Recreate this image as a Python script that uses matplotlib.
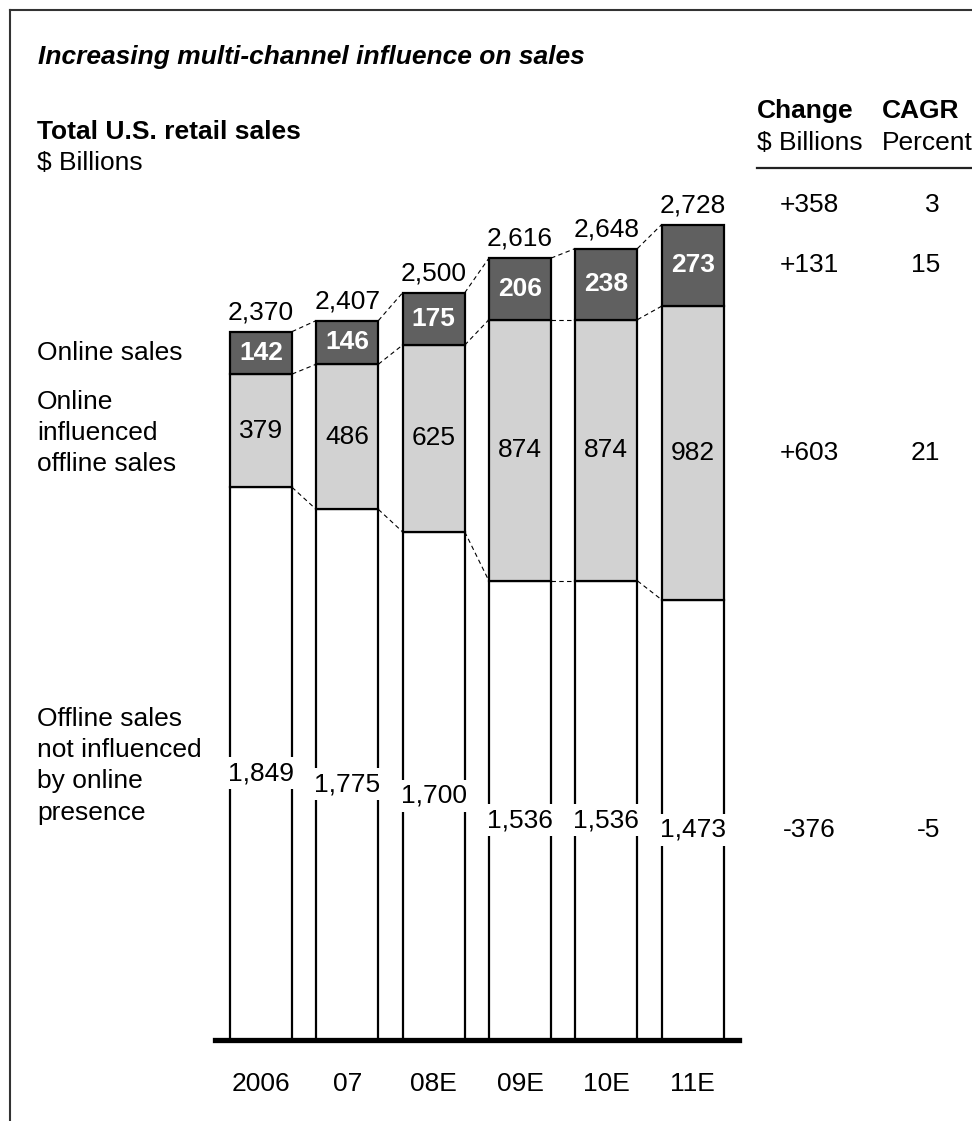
import numpy as np
import matplotlib.pyplot as plt
import matplotlib.transforms as mtransforms
from matplotlib.lines import Line2D

plt.rcParams['font.family'] = ['Liberation Sans', 'DejaVu Sans']

# Data (US$ billions)
years = ['2006', '07', '08E', '09E', '10E', '11E']
offline = [1849, 1775, 1700, 1536, 1536, 1473]
influenced = [379, 486, 625, 874, 874, 982]
online = [142, 146, 175, 206, 238, 273]
totals = [2370, 2407, 2500, 2616, 2648, 2728]

change = ['+358', '+131', '+603', '-376']
cagr = ['3', '15', '21', '-5']

DARK = '#606060'
LIGHT = '#d2d2d2'
FS = 19

W, H = 972, 1121
fig = plt.figure(figsize=(W / 100, H / 100), dpi=100)


def fx(px):
    return px / W


def fy(py):
    return 1 - py / H


ax = fig.add_axes([fx(214.8), fy(1040), 524.1 / W, 896.7 / H])
x = np.arange(len(years))
bw = 0.72
off = np.array(offline)
inf = np.array(influenced)
onl = np.array(online)

ax.bar(x, off, bw, color='white', edgecolor='black', linewidth=1.6, zorder=2)
ax.bar(x, inf, bw, bottom=off, color=LIGHT, edgecolor='black', linewidth=1.6, zorder=2)
ax.bar(x, onl, bw, bottom=off + inf, color=DARK, edgecolor='black', linewidth=1.6, zorder=2)

# dashed connectors between bars
for level in [off, off + inf, off + inf + onl]:
    for i in range(len(x) - 1):
        ax.plot([x[i] + bw / 2, x[i + 1] - bw / 2], [level[i], level[i + 1]],
                color='black', lw=0.8, ls=(0, (4, 3)), zorder=1)

for i in range(len(x)):
    ax.annotate(f'{offline[i]:,}', (x[i], off[i] / 2), xytext=(0, -7),
                textcoords='offset points', ha='center', va='center', fontsize=FS,
                bbox=dict(boxstyle='square,pad=0.15', fc='white', ec='none'), zorder=3)
    ax.text(x[i], off[i] + inf[i] / 2, str(influenced[i]), ha='center', va='center',
            fontsize=FS, zorder=3)
    ax.text(x[i], off[i] + inf[i] + onl[i] / 2, str(online[i]), ha='center', va='center',
            fontsize=FS, color='white', fontweight='bold', zorder=3)
    ax.annotate(f'{totals[i]:,}', (x[i], totals[i]), xytext=(0, 14),
                textcoords='offset points', ha='center', va='center', fontsize=FS)

ax.set_xlim(-0.535, 5.535)
ax.set_ylim(0, 3000)
for s in ['top', 'left', 'right']:
    ax.spines[s].set_visible(False)
ax.spines['bottom'].set_linewidth(3.8)
ax.set_yticks([])
ax.set_xticks(x)
ax.set_xticklabels(years, fontsize=FS)
ax.tick_params(axis='x', length=0, pad=23)

# segment names on the left, aligned with first bar
tl = mtransforms.blended_transform_factory(fig.transFigure, ax.transData)
seg_names = ['Online sales', 'Online\ninfluenced\noffline sales',
             'Offline sales\nnot influenced\nby online\npresence']
seg_y = [off[0] + inf[0] + onl[0] / 2, off[0] + inf[0] / 2, off[0] / 2]
seg_dy = [0, -1.5, -1.5]
for name, yv, dy in zip(seg_names, seg_y, seg_dy):
    fig.text(fx(37), yv, name, ha='left', va='center', fontsize=FS, linespacing=1.38,
             transform=tl + mtransforms.ScaledTranslation(0, dy / 72, fig.dpi_scale_trans))

# right-hand table, rows aligned with last bar's labels
last = len(x) - 1
row_y = [totals[last], off[last] + inf[last] + onl[last] / 2,
         off[last] + inf[last] / 2, off[last] / 2]
row_off = [14, 0, 0, -7]
for c, g, yv, dy in zip(change, cagr, row_y, row_off):
    tr = tl + mtransforms.ScaledTranslation(0, dy / 72, fig.dpi_scale_trans)
    fig.text(fx(809.5), yv, c, transform=tr, ha='center', va='center', fontsize=FS)
    fig.text(fx(940), yv, g, transform=tr, ha='right', va='center', fontsize=FS)

fig.text(fx(757), fy(111), 'Change', ha='left', va='center', fontsize=FS, fontweight='bold')
fig.text(fx(882), fy(111), 'CAGR', ha='left', va='center', fontsize=FS, fontweight='bold')
fig.text(fx(757), fy(143), '$ Billions', ha='left', va='center', fontsize=FS)
fig.text(fx(882), fy(143), 'Percent', ha='left', va='center', fontsize=FS)
fig.add_artist(Line2D([fx(757), 1], [fy(168), fy(168)], color='#222222', lw=1.6))

fig.text(fx(38), fy(57), 'Increasing multi-channel influence on sales', ha='left', va='center',
         fontsize=FS, fontweight='bold', fontstyle='italic')
fig.text(fx(37), fy(132), 'Total U.S. retail sales', ha='left', va='center',
         fontsize=FS, fontweight='bold')
fig.text(fx(37), fy(163), '$ Billions', ha='left', va='center', fontsize=FS)

# frame (left and top edges)
fig.add_artist(Line2D([fx(10), fx(10)], [0, fy(10)], color='#333333', lw=1.5))
fig.add_artist(Line2D([fx(10), 1], [fy(10), fy(10)], color='#333333', lw=1.5))

fig.savefig('out.png', dpi=100, facecolor='white')
